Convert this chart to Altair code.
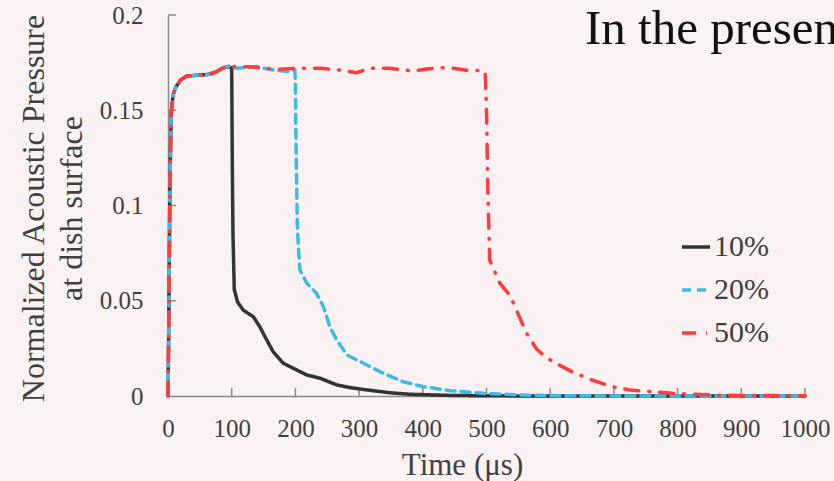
import altair as alt
import pandas as pd

series_names = ["10%", "20%", "50%"]

t_10 = [0, 1, 3, 5, 8, 12, 20, 30, 50, 63, 75, 85, 95, 100, 101, 102, 104, 109, 118, 134, 144, 155, 165,
        181, 197, 218, 239, 265, 286, 312, 348, 380, 443, 500, 600, 800, 1000]
p_10 = [0, 0.03, 0.11, 0.148, 0.158, 0.162, 0.166, 0.168, 0.1685, 0.1688, 0.170, 0.172, 0.173, 0.172, 0.12,
        0.085, 0.056, 0.0495, 0.0451, 0.0416, 0.0364, 0.0294, 0.0233, 0.0172, 0.0145, 0.0110, 0.0093, 0.0058,
        0.0044, 0.0032, 0.0017, 0.0009, 0.0003, 0.0001, 0, 0, 0]

t_20 = [0, 1, 3, 5, 8, 12, 20, 30, 50, 63, 75, 85, 95, 107, 139, 165, 191, 199, 200, 201, 203, 205, 207,
        218, 233, 244, 254, 265, 281, 307, 338, 369, 401, 443, 495, 547, 600, 700, 1000]
p_20 = [0, 0.03, 0.11, 0.148, 0.158, 0.162, 0.166, 0.168, 0.1685, 0.1688, 0.170, 0.172, 0.173, 0.172, 0.1729,
        0.1711, 0.1703, 0.171, 0.165, 0.13, 0.09, 0.0767, 0.0662, 0.0592, 0.0539, 0.0469, 0.0364, 0.0294,
        0.0215, 0.0172, 0.0119, 0.0075, 0.0049, 0.0028, 0.0014, 0.0006, 0.0002, 0, 0]

t_50 = [0, 1, 3, 5, 8, 12, 20, 30, 50, 63, 75, 85, 95, 100, 130, 170, 207, 239, 270, 296, 317, 348, 385,
        406, 437, 469, 495, 498, 500, 502, 505, 521, 537, 553, 563, 579, 589, 604, 634, 662, 694, 725, 757,
        791, 819, 856, 893, 950, 1000]
p_50 = [0, 0.03, 0.11, 0.148, 0.158, 0.162, 0.166, 0.168, 0.1685, 0.1688, 0.170, 0.172, 0.173, 0.173, 0.1728,
        0.1715, 0.172, 0.172, 0.1711, 0.1697, 0.172, 0.172, 0.1706, 0.1717, 0.1725, 0.171, 0.1708, 0.17, 0.15,
        0.11, 0.0714, 0.0592, 0.0527, 0.0405, 0.0329, 0.0245, 0.0215, 0.018, 0.0128, 0.0088, 0.0052, 0.0031,
        0.0023, 0.0014, 0.001, 0.0005, 0.0003, 0.0002, 0.0001]

x_ticks = [100, 200, 300, 400, 500, 600, 700, 800, 900, 1000]
y_ticks = [0.05, 0.1, 0.15, 0.2]

rows = []
for name, ts, ps in zip(series_names, [t_10, t_20, t_50], [p_10, p_20, p_50]):
    for i, (t, p) in enumerate(zip(ts, ps)):
        rows.append({"t": t, "p": p, "s": name, "o": i})
df = pd.DataFrame(rows)

FONT = "Liberation Serif"
TXT = "#404040"
AX = "#8a8a8a"
W, H = 637, 381

xscale = alt.Scale(domain=[0, 1000], nice=False)
yscale = alt.Scale(domain=[0, 0.2], nice=False)

xaxis = alt.Axis(values=[0, 100, 200, 300, 400, 500, 600, 700, 800, 900, 1000], format="d", tickSize=0,
                 labelPadding=20, labelFontSize=25, labelFont=FONT, labelColor=TXT, title="Time (μs)",
                 titleFont=FONT, titleFontSize=31, titleFontWeight="normal", titleColor=TXT, titleX=294,
                 titleY=78, titleBaseline="alphabetic", titleAnchor="middle", domainColor=AX, domainWidth=1.5,
                 grid=False, labelFlush=False, labelOverlap=False)
yaxis = alt.Axis(values=[0, 0.05, 0.1, 0.15, 0.2], format=".2~f", tickSize=0, labelPadding=25,
                 labelFontSize=25, labelFont=FONT, labelColor=TXT,
                 title=["Normalized Acoustic Pressure", "at dish surface"],
                 titleFont=FONT, titleFontSize=32, titleFontWeight="normal", titleColor=TXT,
                 titleAngle=270, titleX=-125, titleY=193, titleBaseline="alphabetic", titleAnchor="middle",
                 titleLineHeight=38, domainColor=AX, domainWidth=1.5, grid=False, labelFlush=False,
                 labelOverlap=False)

leg = alt.Legend(orient="none", legendX=512, legendY=216, title=None, symbolType="stroke", symbolSize=784,
                 symbolStrokeWidth=3.5, labelFont=FONT, labelFontSize=30, labelColor=TXT, rowPadding=12,
                 labelOffset=2, padding=0)

lines = alt.Chart(df).mark_line(strokeWidth=3.5, strokeCap="round").encode(
    x=alt.X("t:Q", scale=xscale, axis=xaxis),
    y=alt.Y("p:Q", scale=yscale, axis=yaxis),
    color=alt.Color("s:N", scale=alt.Scale(domain=series_names, range=["#333333", "#3dbbe8", "#ff3b3b"]),
                    legend=leg),
    strokeDash=alt.StrokeDash("s:N", scale=alt.Scale(domain=series_names,
                                                      range=[[1, 0], [9, 6], [14, 10, 1, 10]]),
                              legend=leg),
    order="o:Q",
)

xt = alt.Chart(pd.DataFrame({"t": x_ticks})).mark_rule(color=AX, strokeWidth=1.5).encode(
    x=alt.X("t:Q", scale=xscale, axis=xaxis), y=alt.value(H), y2=alt.value(H - 8))
yt = alt.Chart(pd.DataFrame({"p": y_ticks})).mark_rule(color=AX, strokeWidth=1.5).encode(
    y=alt.Y("p:Q", scale=yscale, axis=yaxis), x=alt.value(0), x2=alt.value(8))

caption = alt.Chart(pd.DataFrame({"a": [0]})).mark_text(
    text="In the presen", font=FONT, fontSize=49, color="#111111", align="left", baseline="alphabetic"
).encode(x=alt.value(417), y=alt.value(29))

chart = alt.layer(xt, yt, lines, caption).properties(
    width=W, height=H, background="#faf1f2",
    padding={"left": 168, "top": 15, "right": 29, "bottom": 85},
    autosize=alt.AutoSizeParams(type="none"),
).configure_view(stroke=None)

chart.save("out.html", embed_options={"renderer": "svg", "actions": False})
